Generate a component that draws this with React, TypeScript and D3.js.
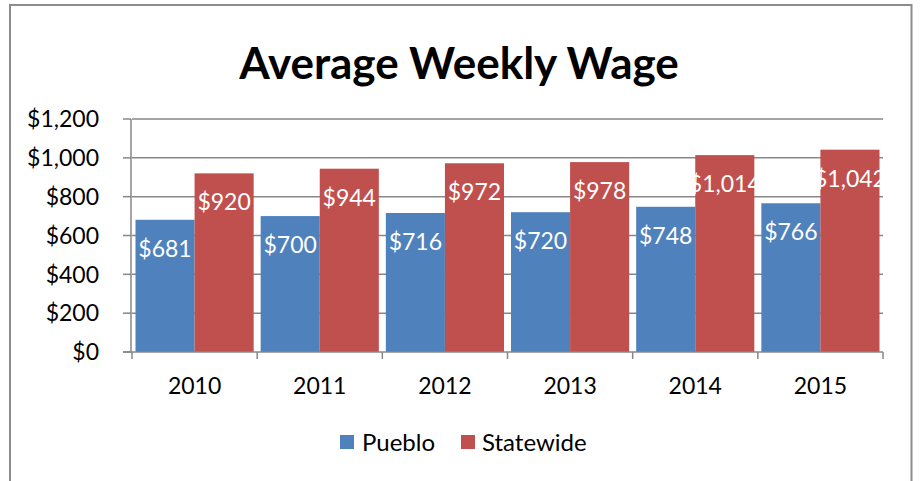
import React from "react";
import * as d3 from "d3";

const years = ["2010", "2011", "2012", "2013", "2014", "2015"];
const pueblo = [681, 700, 716, 720, 748, 766];
const statewide = [920, 944, 972, 978, 1014, 1042];
const seriesNames = ["Pueblo", "Statewide"];
const yTicks = [0, 200, 400, 600, 800, 1000, 1200];
const title = "Average Weekly Wage";

const W = 920;
const H = 481;
const colors = ["#4F81BD", "#C0504D"];
const FONT = "Lato, 'Open Sans', sans-serif";

export default function App() {
  const plotL = 132, plotR = 883, plotT = 119, plotB = 352;
  const y = d3.scaleLinear().domain([0, 1200]).range([plotB, plotT]);
  const x = d3.scaleBand().domain(years).range([plotL, plotR]).paddingInner(0.056).paddingOuter(0.028);
  const xs = d3.scaleBand().domain(seriesNames).range([0, x.bandwidth()]);
  const fmt = (v: number) => "$" + d3.format(",")(v);
  const data = [pueblo, statewide];
  const step = x.step();
  const boundaries = d3.range(years.length + 1).map((i) => plotL + i * step);

  return (
    <div style={{ position: "fixed", left: 0, top: 0, width: W, height: H, background: "#fff" }}>
      <svg width={W} height={H} style={{ display: "block" }} fontFamily={FONT}>
        <rect x={10} y={5} width={901.5} height={500} fill="#fff" stroke="#8c8c8c" strokeWidth={2} />
        <text x={459} y={79} textAnchor="middle" fontSize={44} fontWeight={700} fill="#000">{title}</text>
        {yTicks.filter((t) => t > 0).map((t) => (
          <line key={"g" + t} x1={plotL} x2={plotR} y1={y(t)} y2={y(t)} stroke="#878787" strokeWidth={1.5} />
        ))}
        {data.map((vals, si) =>
          vals.map((v, i) => (
            <rect key={si + "-" + i} x={(x(years[i]) as number) + (xs(seriesNames[si]) as number)} y={y(v)} width={xs.bandwidth()} height={plotB - y(v)} fill={colors[si]} />
          ))
        )}
        {data.map((vals, si) =>
          vals.map((v, i) => (
            <text key={"l" + si + "-" + i} x={(x(years[i]) as number) + (xs(seriesNames[si]) as number) + xs.bandwidth() / 2} y={y(v) + 37} textAnchor="middle" fontSize={23} fill="#fff">{fmt(v)}</text>
          ))
        )}
        <line x1={131} x2={131} y1={plotT} y2={plotB} stroke="#878787" strokeWidth={1.5} />
        {yTicks.map((t) => (
          <g key={"t" + t}>
            <line x1={123} x2={131} y1={y(t)} y2={y(t)} stroke="#878787" strokeWidth={1.5} />
            <text x={99} y={y(t)} dy="0.36em" textAnchor="end" fontSize={23} fill="#000">{fmt(t)}</text>
          </g>
        ))}
        <line x1={123} x2={plotR} y1={plotB} y2={plotB} stroke="#878787" strokeWidth={1.5} />
        {boundaries.map((b, i) => (
          <line key={"b" + i} x1={b} x2={b} y1={plotB} y2={plotB + 7} stroke="#878787" strokeWidth={1.5} />
        ))}
        {years.map((yr) => (
          <text key={yr} x={(x(yr) as number) + x.bandwidth() / 2} y={394} textAnchor="middle" fontSize={23} fill="#000">{yr}</text>
        ))}
        <rect x={340} y={435} width={14} height={14} fill={colors[0]} />
        <text x={362} y={451} fontSize={24} fill="#000">{seriesNames[0]}</text>
        <rect x={461} y={435} width={14} height={14} fill={colors[1]} />
        <text x={482} y={451} fontSize={24} fill="#000">{seriesNames[1]}</text>
      </svg>
    </div>
  );
}
